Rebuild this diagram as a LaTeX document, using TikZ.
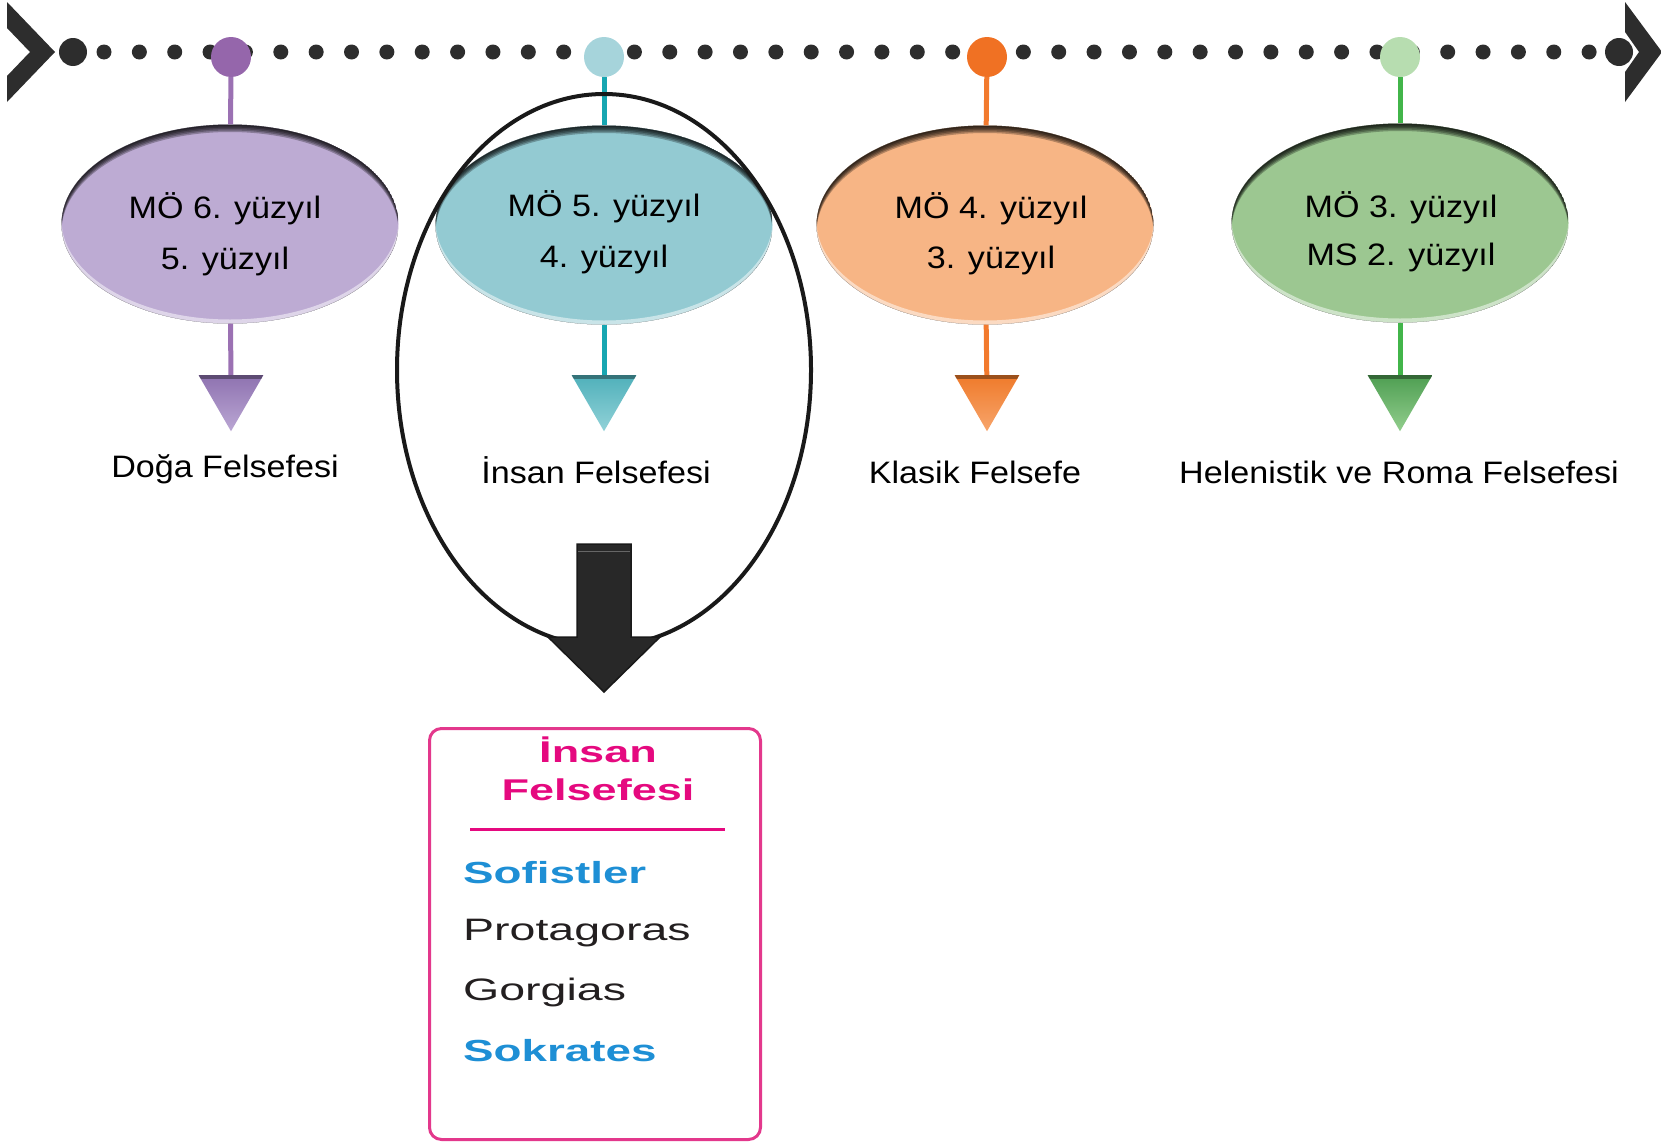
\documentclass[tikz,border=0pt]{standalone}
\usepackage{fontspec}
\setmainfont{Liberation Sans}
\newfontfamily\erafont[FakeStretch=1.1]{Liberation Sans}
\newfontfamily\boxfont[FakeStretch=1.5]{Liberation Sans}
\usetikzlibrary{shapes.geometric}

\definecolor{ink}{HTML}{2D2D2D}
\definecolor{purpleC}{HTML}{9566AB}
\definecolor{purpleS}{HTML}{9B71B3}
\definecolor{purpleE}{HTML}{BDABD3}
\definecolor{purpleT}{HTML}{8E72B0}
\definecolor{purpleB}{HTML}{BBA7D4}
\definecolor{tealC}{HTML}{A6D4DB}
\definecolor{tealS}{HTML}{17A6B1}
\definecolor{tealE}{HTML}{93CAD2}
\definecolor{tealT}{HTML}{4FB0BA}
\definecolor{tealB}{HTML}{92D2D8}
\definecolor{orangeC}{HTML}{F07123}
\definecolor{orangeS}{HTML}{F27A2E}
\definecolor{orangeE}{HTML}{F7B585}
\definecolor{orangeT}{HTML}{EF7A2A}
\definecolor{orangeB}{HTML}{F7A56C}
\definecolor{greenC}{HTML}{B7DDB0}
\definecolor{greenS}{HTML}{42B54A}
\definecolor{greenE}{HTML}{9CC791}
\definecolor{greenT}{HTML}{4E9E52}
\definecolor{greenB}{HTML}{92CE8D}
\definecolor{boxpink}{HTML}{E3388C}
\definecolor{titlepink}{HTML}{E5097F}
\definecolor{sky}{HTML}{1E8FD5}
\definecolor{textdark}{HTML}{231F20}
\definecolor{arrowgray}{HTML}{282828}

\tikzset{x=1pt, y=-1pt, node font=\erafont\fontsize{31}{31}\selectfont}
\tikzset{
  dotnode/.style={circle, inner sep=0pt, minimum size=40pt, fill=#1},
  stemline/.style={line width=5pt, draw=#1},
  era/.style={ellipse, inner sep=0pt, minimum width=337pt, minimum height=199pt, fill=#1,
    path picture={
      \foreach \s in {1.5,3,4.5,6,7.5}
        \fill[black, opacity=.27, even odd rule]
          (path picture bounding box.center) ellipse [x radius=168.5pt, y radius=99.5pt]
          ([yshift=-\s pt]path picture bounding box.center) ellipse [x radius=168.5pt, y radius=99.5pt];
      \fill[white, opacity=.5, even odd rule]
          (path picture bounding box.center) ellipse [x radius=168.5pt, y radius=99.5pt]
          ([yshift=4pt]path picture bounding box.center) ellipse [x radius=168.5pt, y radius=99.5pt];
    }},
  pointer/.style 2 args={regular polygon, regular polygon sides=3, shape border rotate=180,
    inner sep=0pt, minimum size=75pt, top color=#1, bottom color=#2,
    path picture={
      \fill[black, opacity=.35] (path picture bounding box.north west)
        rectangle ([yshift=-4pt]path picture bounding box.north east);
    }},
  yr/.style={anchor=base, inner sep=0pt, text=black},
  school/.style={anchor=base, inner sep=0pt, text=black},
  boxtitle/.style={anchor=base, inner sep=0pt, text=titlepink,
    font=\boxfont\bfseries\fontsize{30}{30}\selectfont},
  boxitem/.style={anchor=base west, inner sep=0pt,
    font=\boxfont\fontsize{31}{31}\selectfont},
}

\begin{document}
\begin{tikzpicture}
  \useasboundingbox (0,0) rectangle (1661,1143);

  % timeline
  \fill[ink] (7,2) -- (55,52) -- (7,102) -- (7,76) -- (30,52) -- (7,28) -- cycle;
  \fill[ink] (1625,2) -- (1662,52) -- (1625,102) -- (1625,72) -- (1639,52) -- (1625,32) -- cycle;
  \foreach \i in {0,...,42}
    \fill[ink] ({104+35.36*\i},52) circle (7.5pt);
  \fill[ink] (73,52) circle (14pt);
  \fill[ink] (1619,52) circle (14pt);

  % periods
  \node[dotnode=purpleC] (c1) at (231,57) {};
  \node[dotnode=tealC] (c2) at (604,57) {};
  \node[dotnode=orangeC] (c3) at (987,57) {};
  \node[dotnode=greenC] (c4) at (1400,57) {};

  \node[era=purpleE] (e1) at (230,224) {};
  \node[era=tealE] (e2) at (604,225) {};
  \node[era=orangeE] (e3) at (985,225) {};
  \node[era=greenE] (e4) at (1400,223) {};

  \node[pointer={purpleT}{purpleB}] (p1) at (231,393.75) {};
  \node[pointer={tealT}{tealB}] (p2) at (604,393.75) {};
  \node[pointer={orangeT}{orangeB}] (p3) at (987,393.75) {};
  \node[pointer={greenT}{greenB}] (p4) at (1400,393.75) {};

  \draw[stemline=purpleS] (c1) -- (e1);
  \draw[stemline=purpleS] (e1) -- (p1);
  \draw[stemline=tealS] (c2) -- (e2);
  \draw[stemline=tealS] (e2) -- (p2);
  \draw[stemline=orangeS] (c3) -- (e3);
  \draw[stemline=orangeS] (e3) -- (p3);
  \draw[stemline=greenS] (c4) -- (e4);
  \draw[stemline=greenS] (e4) -- (p4);

  \node[yr] (y1a) at (225,218) {MÖ 6. yüzyıl};
  \node[yr] (y1b) at (225,269) {5. yüzyıl};
  \node[yr] (y2a) at (604,216) {MÖ 5. yüzyıl};
  \node[yr] (y2b) at (604,267) {4. yüzyıl};
  \node[yr] (y3a) at (991,218) {MÖ 4. yüzyıl};
  \node[yr] (y3b) at (991,268) {3. yüzyıl};
  \node[yr] (y4a) at (1401,217) {MÖ 3. yüzyıl};
  \node[yr] (y4b) at (1401,265) {MS 2. yüzyıl};

  \node[school] (s1) at (225,477) {Doğa Felsefesi};
  \node[school] (s2) at (596,483) {İnsan Felsefesi};
  \node[school] (s3) at (975,483) {Klasik Felsefe};
  \node[school] (s4) at (1399,483) {Helenistik ve Roma Felsefesi};

  % focus on the second period
  \node[ellipse, draw=black!90, line width=4pt, inner sep=0pt,
        minimum width=414pt, minimum height=552pt] (focus) at (604,370) {};
  \draw[fill=arrowgray, draw=black!90, line width=1.5pt, line join=miter]
    (577,544) -- (631,544) -- (631,637) -- (660,637) -- (604,692)
    -- (548,637) -- (577,637) -- cycle;
  \draw[black!60, line width=.8pt] (578,551) -- (630,551);

  % detail box
  \node[draw=boxpink, line width=3pt, rounded corners=12pt, inner sep=0pt,
        minimum width=331pt, minimum height=411pt] (box) at (595,934) {};
  \node[boxtitle] (b1) at (598,762) {İnsan};
  \node[boxtitle] (b2) at (598,800) {Felsefesi};
  \draw[titlepink, line width=3pt] (470,829) -- (725,829);
  \node[boxitem, text=sky, font=\boxfont\bfseries\fontsize{30.5}{30}\selectfont] (n1) at (463,883) {Sofistler};
  \node[boxitem, text=textdark] (n2) at (463,940) {Protagoras};
  \node[boxitem, text=textdark] (n3) at (463,1000) {Gorgias};
  \node[boxitem, text=sky, font=\boxfont\bfseries\fontsize{30.5}{30}\selectfont] (n4) at (463,1061) {Sokrates};
\end{tikzpicture}
\end{document}
